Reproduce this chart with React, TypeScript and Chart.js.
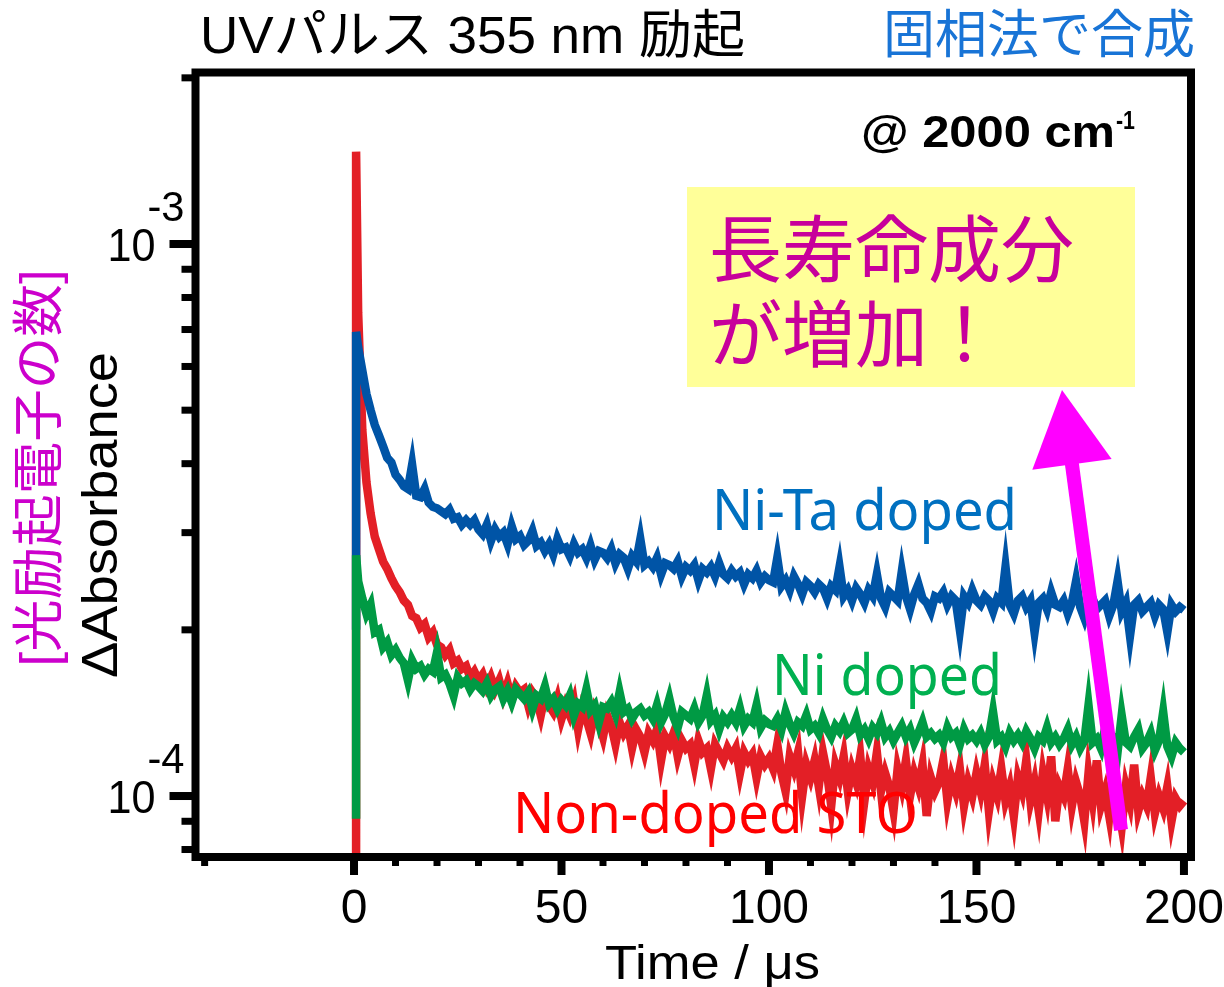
import React, { useEffect, useRef } from "react";
import { Chart, registerables } from "chart.js";

Chart.register(...registerables);

// ---------- data (ΔAbsorbance in units of 1e-4, sampled every 1 µs; first two samples are the pulse edge at t = 0.5 µs) ----------
const UNIT = 1e-4;
const PULSE_T = 0.5;
const N_SAMPLES = 200; // t = 1 .. 200 µs

const RED_NONDOPED = [
  0.5, 14.7,
  7.5, 4.6, 3.7, 3.25, 2.95, 2.8, 2.66, 2.58, 2.48, 2.4,
  2.34, 2.26, 2.22, 2.12, 2.1, 2.02, 2.05, 1.94, 1.98, 1.88,
  1.86, 1.8, 1.84, 1.74, 1.76, 1.7, 1.72, 1.64, 1.68, 1.62,
  1.66, 1.58, 1.64, 1.56, 1.62, 1.52, 1.6, 1.5, 1.58, 1.54,
  1.56, 1.46, 1.54, 1.5, 1.4, 1.52, 1.46, 1.42, 1.5, 1.38,
  1.46, 1.4, 1.48, 1.32, 1.44, 1.38, 1.3, 1.42, 1.36, 1.28,
  1.4, 1.34, 1.24, 1.36, 1.3, 1.34, 1.22, 1.32, 1.28, 1.2,
  1.3, 1.26, 1.32, 1.16, 1.28, 1.24, 1.3, 1.18, 1.26, 1.22,
  1.24, 1.14, 1.26, 1.2, 1.22, 1.12, 1.24, 1.2, 1.16, 1.22,
  1.18, 1.22, 1.1, 1.2, 1.16, 1.19, 1.08, 1.18, 1.14, 1.17,
  1.12, 1.24, 1.1, 1.02, 1.18, 1.12, 1.2, 1.0, 1.14, 1.08,
  1.16, 1.04, 1.2, 1.1, 0.96, 1.14, 1.08, 1.18, 1.02, 1.12,
  1.06, 1.18, 0.98, 1.12, 1.06, 1.2, 1.02, 1.1, 1.04, 0.94,
  1.12, 1.04, 1.16, 1.0, 1.1, 1.04, 1.14, 0.92, 1.08, 1.02,
  1.06, 1.16, 0.98, 1.08, 1.02, 1.12, 0.96, 1.06, 1.0, 1.1,
  1.02, 1.14, 0.94, 1.06, 1.0, 1.12, 0.98, 1.04, 0.92, 1.08,
  1.02, 1.16, 0.98, 1.06, 0.94, 1.1, 1.0, 1.18, 0.9, 1.04,
  1.0, 1.12, 0.96, 1.06, 1.0, 0.9, 1.1, 0.98, 1.16, 0.96,
  1.02, 0.92, 1.1, 0.98, 0.88, 1.04, 0.97, 1.14, 0.94, 1.0,
  0.96, 1.08, 0.93, 1.0, 0.95, 1.04, 0.9, 0.99, 0.96, 0.98,
];

const BLUE_NITA = [
  2.0, 6.93,
  6.5, 5.9, 5.35, 5.0, 4.7, 4.5, 4.3, 4.1, 4.02, 3.82,
  3.74, 3.64, 3.6, 3.98, 3.5, 3.48, 3.6, 3.4, 3.34, 3.32,
  3.28, 3.24, 3.3, 3.18, 3.2, 3.1, 3.16, 3.1, 3.16, 3.04,
  2.98, 3.1, 2.9, 3.04, 2.95, 3.0, 2.86, 3.08, 2.92, 2.96,
  2.85, 2.9, 3.02, 2.84, 2.88, 2.78, 2.86, 2.74, 2.92, 2.8,
  2.82, 2.72, 2.86, 2.76, 2.8, 2.7, 2.84, 2.68, 2.78, 2.76,
  2.7, 2.8, 2.64, 2.74, 2.7, 2.58, 2.72, 2.66, 2.92, 2.62,
  2.66, 2.6, 2.7, 2.52, 2.64, 2.62, 2.58, 2.66, 2.5, 2.6,
  2.56, 2.62, 2.46, 2.58, 2.54, 2.6, 2.5, 2.64, 2.52, 2.48,
  2.56, 2.5, 2.54, 2.42, 2.52, 2.48, 2.56, 2.44, 2.5, 2.46,
  2.44, 2.7, 2.4, 2.46, 2.36, 2.5, 2.42, 2.32, 2.44, 2.4,
  2.34, 2.42, 2.38, 2.28, 2.4, 2.36, 2.6, 2.3, 2.36, 2.26,
  2.38, 2.32, 2.24, 2.36, 2.3, 2.52, 2.28, 2.2, 2.34, 2.3,
  2.26, 2.55, 2.3, 2.18, 2.32, 2.42, 2.28, 2.24, 2.16, 2.3,
  2.28, 2.34, 2.22, 2.3, 2.26, 2.0, 2.3, 2.24, 2.36, 2.26,
  2.22, 2.3, 2.26, 2.16, 2.28, 2.24, 2.6, 2.22, 2.14, 2.26,
  2.3, 2.2, 2.26, 1.98, 2.24, 2.28, 2.18, 2.34, 2.22, 2.2,
  2.26, 2.14, 2.24, 2.45, 2.2, 2.1, 2.24, 2.28, 2.18, 2.22,
  2.26, 2.12, 2.22, 2.45, 2.16, 2.24, 1.95, 2.22, 2.26, 2.16,
  2.2, 2.24, 2.12, 2.22, 2.18, 1.98, 2.22, 2.16, 2.2, 2.17,
];

const GREEN_NI = [
  0.91, 2.73,
  2.45, 2.28, 2.14, 2.22, 1.98, 2.0, 1.86, 1.9, 1.8, 1.84,
  1.78, 1.74, 1.62, 1.76, 1.7, 1.72, 1.66, 1.7, 1.68, 1.82,
  1.64, 1.66, 1.6, 1.52, 1.64, 1.6, 1.62, 1.56, 1.6, 1.58,
  1.55, 1.6, 1.52, 1.56, 1.58, 1.5, 1.55, 1.48, 1.56, 1.53,
  1.5, 1.54, 1.44, 1.52, 1.5, 1.58, 1.47, 1.5, 1.44, 1.49,
  1.46, 1.52, 1.4, 1.47, 1.45, 1.56, 1.43, 1.46, 1.36, 1.45,
  1.44, 1.48, 1.41, 1.54, 1.42, 1.44, 1.38, 1.42, 1.44, 1.4,
  1.42, 1.38, 1.46, 1.36, 1.41, 1.5, 1.39, 1.33, 1.42, 1.4,
  1.38, 1.44, 1.36, 1.4, 1.52, 1.37, 1.4, 1.32, 1.39, 1.36,
  1.4, 1.36, 1.44, 1.34, 1.38, 1.36, 1.46, 1.33, 1.37, 1.35,
  1.34, 1.38, 1.32, 1.42, 1.35, 1.3, 1.36, 1.34, 1.4, 1.32,
  1.34, 1.3, 1.38, 1.32, 1.28, 1.34, 1.31, 1.36, 1.3, 1.32,
  1.38, 1.29, 1.32, 1.27, 1.33, 1.3, 1.36, 1.28, 1.31, 1.26,
  1.3, 1.34, 1.28, 1.32, 1.25, 1.3, 1.36, 1.28, 1.3, 1.27,
  1.29, 1.25, 1.33, 1.28, 1.3, 1.24, 1.32, 1.27, 1.29, 1.26,
  1.3, 1.24, 1.28, 1.42, 1.26, 1.28, 1.23, 1.3, 1.26, 1.29,
  1.25, 1.31, 1.27, 1.22, 1.28, 1.26, 1.33, 1.25, 1.28, 1.24,
  1.27, 1.32, 1.24, 1.28, 1.22, 1.26, 1.46, 1.25, 1.27, 1.22,
  1.33, 1.24, 1.26, 1.2, 1.4, 1.25, 1.23, 1.28, 1.32, 1.22,
  1.25, 1.3, 1.21, 1.26, 1.42, 1.23, 1.18, 1.25, 1.22, 1.2,
];

const TIME_US = [PULSE_T, PULSE_T, ...Array.from({ length: N_SAMPLES }, (_, i) => i + 1)];

// axis ranges & ticks
const X_MIN = -38.2;
const X_MAX = 201.7;
const Y_MIN = 7.754e-5;
const Y_MAX = 2.045e-3;
const X_MAJOR_TICKS = [0, 50, 100, 150, 200];
const X_MINOR_TICKS = [-36, 10, 20, 30, 40, 60, 70, 80, 90, 110, 120, 130, 140, 160, 170, 180, 190];
const Y_MAJOR_TICKS = [1e-4, 1e-3];
const Y_MAJOR_EXP = ["-4", "-3"];
const Y_MINOR_TICKS = [8e-5, 9e-5, 2e-4, 3e-4, 4e-4, 5e-4, 6e-4, 7e-4, 8e-4, 9e-4, 2e-3];

const SERIES = [
  { name: "Ni doped", values: GREEN_NI, color: "#009a44" },
  { name: "Ni-Ta doped", values: BLUE_NITA, color: "#0054a6" },
  { name: "Non-doped STO", values: RED_NONDOPED, color: "#e31f26" },
];

const LATIN = "'Liberation Sans', Arial, sans-serif";
const JP = "'Liberation Sans', 'Noto Sans CJK JP', sans-serif";
const LABEL_FONT = "'Noto Sans', 'Open Sans', sans-serif";

type TxtOpts = { align?: CanvasTextAlign; width?: number; rotate?: number };

function drawText(
  ctx: CanvasRenderingContext2D,
  text: string,
  x: number,
  y: number,
  font: string,
  color: string,
  o: TxtOpts = {}
) {
  ctx.save();
  ctx.font = font;
  ctx.fillStyle = color;
  ctx.textAlign = o.align ?? "left";
  ctx.textBaseline = "alphabetic";
  ctx.translate(x, y);
  if (o.rotate) ctx.rotate(o.rotate);
  if (o.width) {
    const w = ctx.measureText(text).width;
    if (w > 0) ctx.scale(o.width / w, 1);
  }
  ctx.fillText(text, 0, 0);
  ctx.restore();
}

const decorPlugin = {
  id: "decor",
  afterDraw(chart: any) {
    const ctx: CanvasRenderingContext2D = chart.ctx;
    const xs = chart.scales.x;
    const ys = chart.scales.y;
    const { left, right, top, bottom } = chart.chartArea;
    ctx.save();

    // frame
    ctx.strokeStyle = "#000";
    ctx.lineWidth = 8;
    ctx.lineJoin = "miter";
    ctx.strokeRect(left, top, right - left, bottom - top);

    // y ticks
    ctx.fillStyle = "#000";
    for (const v of Y_MAJOR_TICKS) {
      const py = ys.getPixelForValue(v);
      ctx.fillRect(left - 26, py - 4, 26, 8);
    }
    for (const v of Y_MINOR_TICKS) {
      const py = ys.getPixelForValue(v);
      ctx.fillRect(left - 14, py - 3.5, 14, 7);
    }
    // x ticks
    for (const v of X_MAJOR_TICKS) {
      const px = xs.getPixelForValue(v);
      ctx.fillRect(px - 4, bottom, 8, 18);
    }
    for (const v of X_MINOR_TICKS) {
      const px = xs.getPixelForValue(v);
      ctx.fillRect(px - 3.5, bottom, 7, 9);
    }

    // x tick labels
    for (const v of X_MAJOR_TICKS) {
      const px = xs.getPixelForValue(v);
      drawText(ctx, String(v), px, bottom + 66, `48px ${LATIN}`, "#000", { align: "center" });
    }
    // y tick labels 10^n
    Y_MAJOR_TICKS.forEach((v, i) => {
      const py = ys.getPixelForValue(v);
      drawText(ctx, "10", left - 40, py + 17, `46px ${LATIN}`, "#000", { align: "right", width: 48 });
      drawText(ctx, Y_MAJOR_EXP[i], left - 48, py - 23, `42px ${LATIN}`, "#000", { align: "left", width: 37 });
    });

    // axis titles
    drawText(ctx, "Time / μs", 605, 979, `48px ${LATIN}`, "#000", { width: 215 });
    drawText(ctx, "ΔAbsorbance", 117, 515, `50px ${LATIN}`, "#000", {
      align: "center",
      rotate: -Math.PI / 2,
      width: 326,
    });
    drawText(ctx, "[光励起電子の数]", 57, 468, `52px ${JP}`, "#cc00cc", {
      align: "center",
      rotate: -Math.PI / 2,
      width: 397,
    });

    // title texts
    drawText(ctx, "UVパルス 355 nm 励起", 200, 53, `52px ${JP}`, "#000", { width: 545 });
    drawText(ctx, "固相法で合成", 883, 53, `52px 'Noto Sans CJK JP', sans-serif`, "#1874d6", { width: 312 });

    // @ 2000 cm-1
    drawText(ctx, "@ 2000 cm", 861, 147, `bold 44px ${LATIN}`, "#000", { width: 254 });
    drawText(ctx, "-1", 1116, 129, `bold 25px ${LATIN}`, "#000", { width: 19 });

    // yellow note box
    ctx.fillStyle = "#ffff99";
    ctx.fillRect(687, 187, 448, 200);
    drawText(ctx, "長寿命成分", 709, 276, `73px 'Noto Sans CJK JP', sans-serif`, "#c7009b");
    drawText(ctx, "が増加！", 709, 361, `73px 'Noto Sans CJK JP', sans-serif`, "#c7009b");

    // series labels
    drawText(ctx, "Ni-Ta doped", 712, 530, `56px ${LABEL_FONT}`, "#0070c0", { width: 305 });
    drawText(ctx, "Ni doped", 772, 695, `56px ${LABEL_FONT}`, "#00b050", { width: 230 });
    drawText(ctx, "Non-doped STO", 513, 833, `56px ${LABEL_FONT}`, "#ff0000", { width: 405 });

    // magenta arrow
    const tail = { x: 1121, y: 830 };
    const tip = { x: 1062, y: 390 };
    const dx = tip.x - tail.x;
    const dy = tip.y - tail.y;
    const len = Math.hypot(dx, dy);
    const ux = dx / len;
    const uy = dy / len;
    const headLen = 75;
    const base = { x: tip.x - ux * headLen, y: tip.y - uy * headLen };
    ctx.strokeStyle = "#ff00ff";
    ctx.lineWidth = 14;
    ctx.lineCap = "butt";
    ctx.beginPath();
    ctx.moveTo(tail.x, tail.y);
    ctx.lineTo(base.x + ux * 5, base.y + uy * 5);
    ctx.stroke();
    ctx.fillStyle = "#ff00ff";
    ctx.beginPath();
    ctx.moveTo(tip.x, tip.y);
    ctx.lineTo(base.x - uy * 40, base.y + ux * 40);
    ctx.lineTo(base.x + uy * 40, base.y - ux * 40);
    ctx.closePath();
    ctx.fill();

    ctx.restore();
  },
};

export default function App() {
  const ref = useRef<HTMLCanvasElement | null>(null);
  useEffect(() => {
    if (!ref.current) return;
    const chart = new Chart(ref.current, {
      type: "line",
      data: {
        datasets: SERIES.map((s, k) => ({
          label: s.name,
          data: TIME_US.map((t, i) => ({ x: t, y: s.values[i] * UNIT })),
          borderColor: s.color,
          backgroundColor: s.color,
          borderWidth: 8.5,
          pointRadius: 0,
          tension: 0,
          fill: false,
          clip: 0,
          order: k,
        })),
      },
      options: {
        responsive: false,
        animation: false,
        devicePixelRatio: 1,
        layout: { padding: { left: 195.5, top: 72.5, right: 33, bottom: 130 } },
        plugins: { legend: { display: false }, tooltip: { enabled: false }, title: { display: false } },
        scales: {
          x: { type: "linear", min: X_MIN, max: X_MAX, display: false },
          y: { type: "logarithmic", min: Y_MIN, max: Y_MAX, display: false },
        },
      },
      plugins: [decorPlugin],
    });
    return () => chart.destroy();
  }, []);
  return (
    <div style={{ position: "absolute", left: 0, top: 0, width: 1224, height: 987, background: "#fff" }}>
      <canvas ref={ref} width={1224} height={987} style={{ display: "block", width: 1224, height: 987 }} />
    </div>
  );
}
